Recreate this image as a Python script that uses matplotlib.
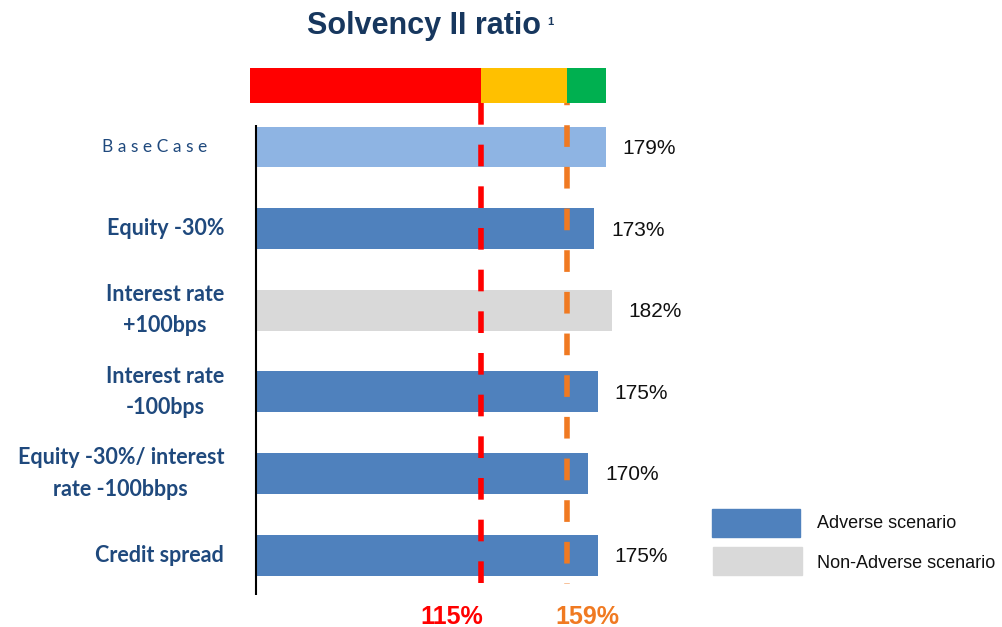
import matplotlib
matplotlib.use('Agg')
import matplotlib.pyplot as plt
from matplotlib.patches import Rectangle

categories = ['Base Case', 'Equity -30%', 'Interest rate\n+100bps', 'Interest rate\n-100bps',
              'Equity -30%/ interest\nrate -100bbps', 'Credit spread']
ratios = [179, 173, 182, 175, 170, 175]
kinds = ['base', 'adverse', 'non-adverse', 'adverse', 'adverse', 'adverse']
thresholds = [115, 159]
threshold_labels = ['115%', '159%']
band_edges = [-3, 115, 159, 179]

colors = {'base': '#8EB4E3', 'adverse': '#4F81BD', 'non-adverse': '#D9D9D9'}
band_colors = ['#FF0000', '#FFC000', '#00B050']
line_colors = ['#FF0000', '#F07A22']
label_color = '#1F497D'

fig = plt.figure(figsize=(10.03, 6.27), dpi=100)
W, H = 1003, 627
ax = fig.add_axes([250 / W, 1 - 600 / H, 397 / W, 540 / H])
ax.set_xlim(-3.07, 200)
ax.set_ylim(5.55, -1.066)
ax.axis('off')

ypos = list(range(len(categories)))
ax.barh(ypos, ratios, height=0.5, color=[colors[k] for k in kinds])

# value labels
for y, v in zip(ypos, ratios):
    ax.annotate(f'{v}%', (v, y), xytext=(12, -1), textcoords='offset points',
                va='center', ha='left', fontsize=15, family='Liberation Sans', color='#111111')

# category labels
for y, c in zip(ypos, categories):
    if c == 'Base Case':
        ax.annotate('B a s e C a s e', (0, y), xytext=(-35, 0), textcoords='offset points',
                    ha='right', va='center', fontsize=12.5, family='Lato', color=label_color)
    else:
        ax.annotate(c, (0, y), xytext=(-23, 0), textcoords='offset points',
                    ha='right', va='center', multialignment='center', linespacing=1.6,
                    fontsize=15.5, family='Lato', fontweight='bold', color=label_color)

# vertical axis line
ax.vlines(0, -0.27, 5.49, color='black', lw=1.5)

# top colour band
for i, c in enumerate(band_colors):
    ax.barh(-0.754, band_edges[i + 1] - band_edges[i], left=band_edges[i], height=0.43, color=c)

# threshold dashed lines
offsets = [0, 3.5]
for t, c, o in zip(thresholds, line_colors, offsets):
    ax.plot([t, t], [-0.54, 5.36], color=c, lw=4, linestyle=(o, (3.9, 3.6)))

for t, lab, c, dx in zip(thresholds, threshold_labels, line_colors, [-29, 21]):
    ax.annotate(lab, (t, 5.55), xytext=(dx * 0.72, -12), textcoords='offset points',
                ha='center', va='center', fontsize=18, fontweight='bold',
                family='Liberation Sans', color=c)

# title
fig.text(424 / W, 1 - 26 / H, 'Solvency II ratio', ha='center', va='center', fontsize=22,
         fontweight='bold', family='Liberation Sans', color='#17375E')
fig.text(550 / W, 1 - 22 / H, '1', ha='center', va='center', fontsize=8,
         fontweight='bold', family='Liberation Sans', color='#17375E')

# legend
fig.add_artist(Rectangle((712 / W, 1 - 537 / H), 88 / W, 28 / H, color=colors['adverse'],
                         transform=fig.transFigure))
fig.add_artist(Rectangle((713 / W, 1 - 575 / H), 89 / W, 28 / H, color=colors['non-adverse'],
                         transform=fig.transFigure))
fig.text(817 / W, 1 - 524 / H, 'Adverse scenario', ha='left', va='center', fontsize=13,
         family='Liberation Sans', color='#111111')
fig.text(817 / W, 1 - 563 / H, 'Non-Adverse scenario', ha='left', va='center', fontsize=13,
         family='Liberation Sans', color='#111111')

fig.savefig('out.png', dpi=100)
